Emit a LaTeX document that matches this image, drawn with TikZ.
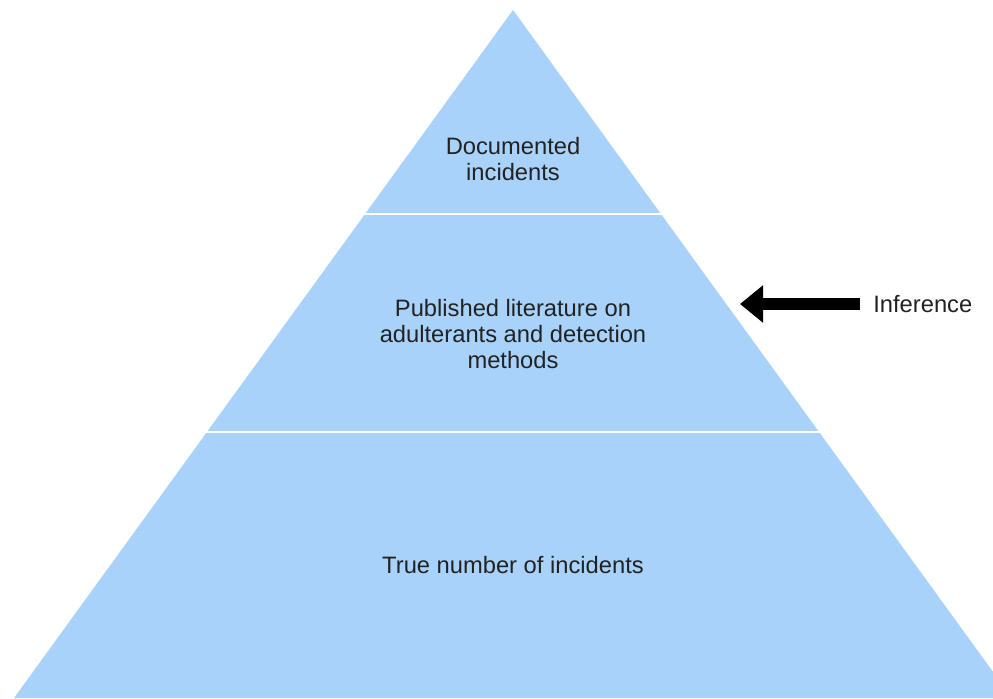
\documentclass[tikz,border=0pt]{standalone}
\usepackage{fontspec}
\setmainfont{Liberation Sans}
\usepackage{xcolor}
\definecolor{pyramidblue}{RGB}{168,210,250}
\definecolor{textgray}{RGB}{34,34,34}
\usepackage{tikz}
\usetikzlibrary{positioning,arrows.meta}

\begin{document}
\begin{tikzpicture}[
        layertext/.style={align=center, text=textgray, font=\fontsize{13.5}{14.8}\selectfont},
        infarrow/.style={black, line width=6.8pt, -{Triangle[length=0.46cm,width=0.72cm]}}
    ]
                % Fix the frame of the picture
                \useasboundingbox (0,0) rectangle (19.86,13.96);
                \clip (0,0) rectangle (19.86,13.96);
                % Corners of the pyramid
                \coordinate (apex) at (10.26,13.76);
                \coordinate (baseL) at (0.28,0);
                \coordinate (baseR) at (20.24,0);
                % Draw the pyramid
                \fill[pyramidblue] (apex) -- (baseL) -- (baseR) -- cycle;
                % Draw white lines between the layers
                \draw[white, line width=1.7pt] (7.28,9.68) -- (13.24,9.68);
                \draw[white, line width=1.7pt] (4.12,5.32) -- (16.40,5.32);

                % Text of the layers
                \node[layertext] (documented) at (10.26,10.78) {Documented\\incidents};
                \node[layertext] (published) at (10.26,7.28) {Published literature on\\adulterants and detection\\methods};
                \node[layertext] (truenumber) at (10.26,2.66) {True number of incidents};

                % Draw the inference arrow
                \node[layertext, anchor=west, inner xsep=0.26cm] (inference) at (17.2,7.88) {Inference};
                \coordinate (tip) at (14.8,7.88);
                \draw[infarrow] (inference.west) -- (tip);
\end{tikzpicture}
\end{document}
